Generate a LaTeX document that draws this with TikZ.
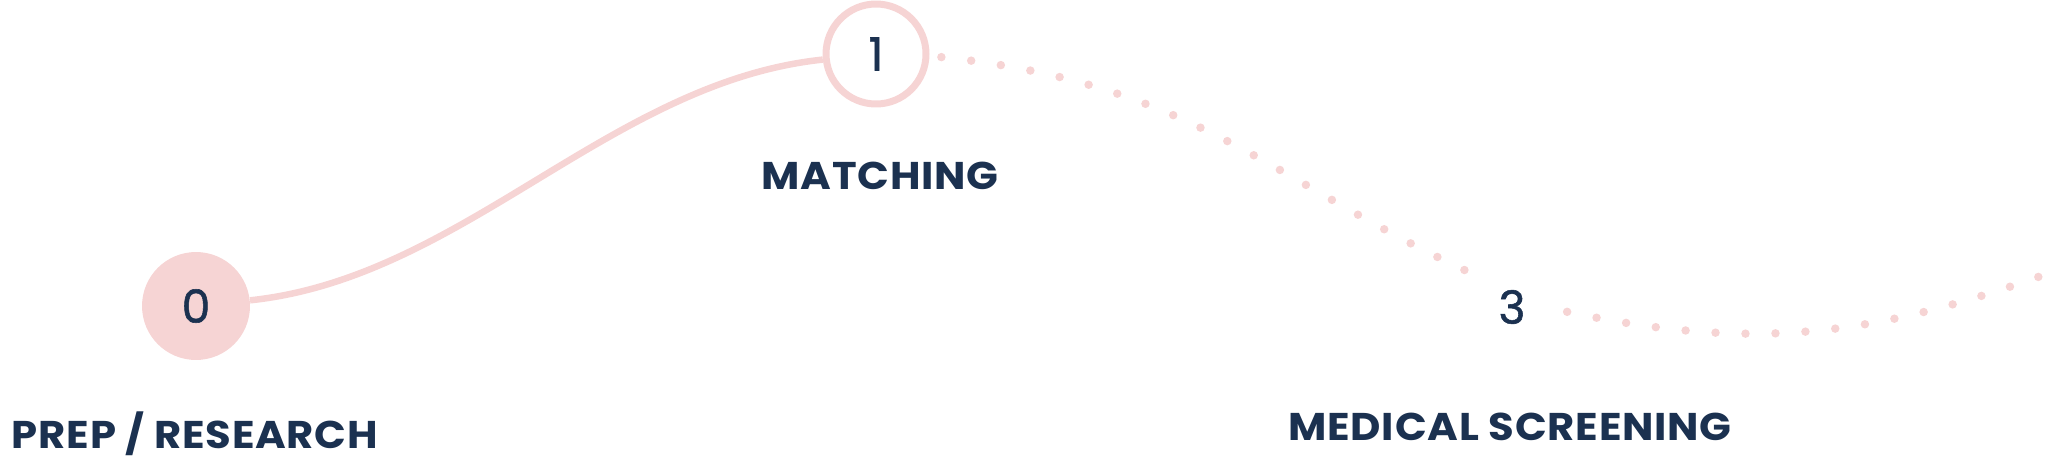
\documentclass[tikz,border=0pt]{standalone}
\usepackage{fontspec}
\newfontfamily\stagefont{Poppins}[LetterSpace=2, FakeStretch=1.08]
\newfontfamily\digitfont{Poppins}[FakeBold=1.2]
\definecolor{blush}{HTML}{F6D4D4}
\definecolor{navy}{HTML}{1B3150}

\begin{document}
\begin{tikzpicture}[x=0.02cm, y=0.02cm,
    stage/.style={circle, minimum size=2.16cm, inner sep=0pt, text=navy,
        font=\digitfont\fontsize{26}{26}\selectfont},
    caption/.style={anchor=base, inner sep=0pt, text=navy,
        font=\stagefont\bfseries\fontsize{22}{22}\selectfont},
    trail/.style={blush, line width=0.13cm},
    dots/.style={blush, line width=0.17cm, line cap=round, dash pattern=on 0pt off 0.6cm}]
    \useasboundingbox (0,0) rectangle (2062,458);

    \node[stage, fill=blush] (n0) at (196,152) {0};
    \node[stage, draw=blush, line width=0.14cm, minimum size=2cm] (n1) at (876,404) {1};
    \node[stage, minimum size=2.2cm] (n3) at (1512,151) {3};
    \coordinate (tail) at (2052,186);

    \draw[trail] (n0) to[out=6, in=186, looseness=0.88] (n1);
    \draw[dots, shorten <=0.24cm] (n1.-2) .. controls +(-6:265) and +(155:225) .. (n3.141);
    \draw[dots] (n3.-5) to[out=-12, in=200] (tail);

    \node[caption] (l0) at (195,10) {PREP / RESEARCH};
    \node[caption] (l1) at (880,269) {MATCHING};
    \node[caption] (l3) at (1510,18) {MEDICAL SCREENING};
\end{tikzpicture}
\end{document}
